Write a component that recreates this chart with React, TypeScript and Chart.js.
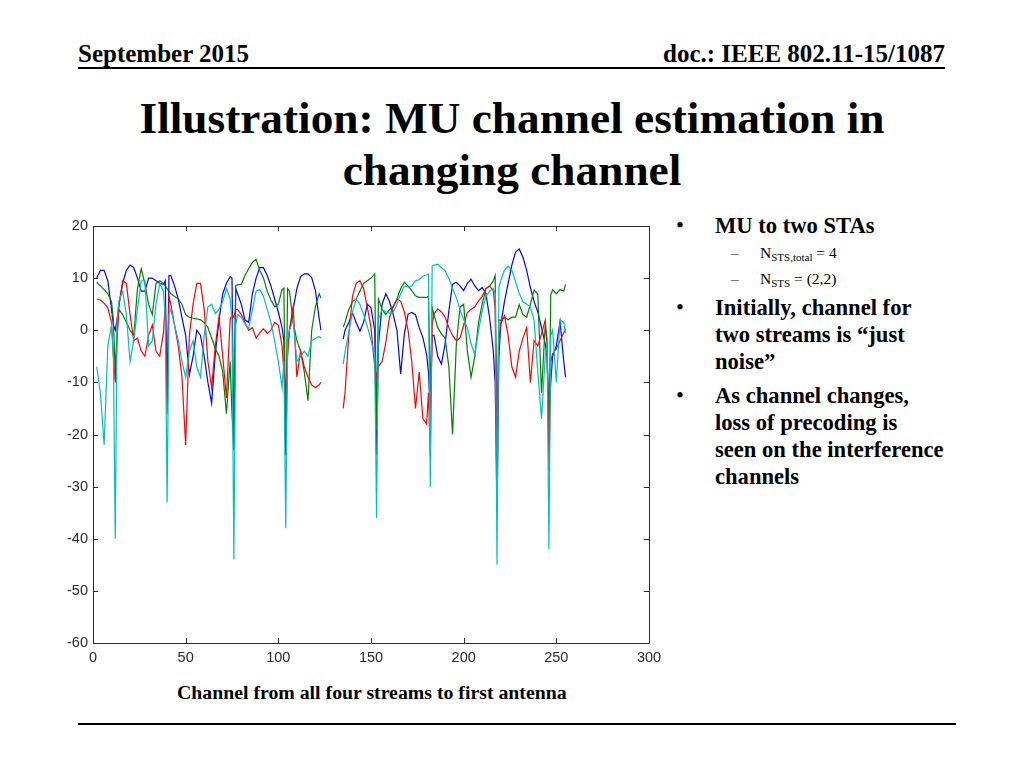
import React, { useEffect, useRef } from "react";
import { Chart, registerables } from "chart.js";

Chart.register(...registerables);

// Subcarrier indices (x values); 129 is a gap that breaks the lines
const subcarriers = [
  2, 4, 6, 8, 10, 11, 12, 13, 14, 16,
  18, 20, 22, 24, 26, 28, 30, 32, 34, 36,
  38, 39, 40, 41, 42, 44, 46, 48, 50, 52,
  54, 56, 58, 60, 62, 64, 66, 68, 70, 72,
  74, 75, 76, 77, 78, 80, 82, 84, 86, 88,
  90, 92, 94, 96, 98, 100, 102, 103, 104, 105,
  106, 108, 110, 112, 114, 116, 118, 120, 122, 123,
  129,
  135, 136, 138, 140, 142, 144, 146, 148, 150, 152,
  153, 154, 156, 158, 160, 162, 164, 166, 168, 170,
  172, 174, 176, 178, 180, 181, 182, 183, 184, 186,
  188, 190, 192, 194, 196, 198, 200, 202, 204, 206,
  208, 210, 212, 214, 216, 217, 218, 219, 220, 222,
  224, 226, 228, 230, 232, 234, 236, 238, 240, 242,
  244, 245, 246, 247, 248, 250, 252, 254, 255,
];

const stream1Blue = [
  10, 11.5, 11.5, 9.5, 4, 1, 0, 2, 5, 9,
  11.5, 12.5, 12, 10, 7.5, 7.5, 10, 10, 9.5, 9,
  8.8, 9.5, -13, 10.5, 10.5, 8.5, 6, 2.4, -1, -8.5,
  -5, 0, -1, -5, -10, -14, -4.5, 2, 7, 9,
  10.3, 10, -22, 8, 7, 5, 2, 1.5, 7, 10,
  12, 12, 10.5, 8.5, 6, 3.5, 0.5, -2, -24, -3,
  0, 4, 8, 10.3, 10.8, 10.8, 10.1, 7.6, 2.4, 0,
  null,
  -1.7, 0, 1.5, 3.3, 1.5, -0.2, 1.5, 5, 4.3, 0,
  -24, -3, 5, 7, 5.5, 3, 0, -8.4, -0.7, 3.1,
  3.4, 3, 0.5, -1.4, -4.6, -8, -16, -1, -1, -5,
  -6.5, -2.6, 3.7, 8.8, 9.2, 8.5, 7.6, 9, 9.8, 8.5,
  7.6, 8.2, 7, 2.4, -4, -10, -35, -5, 1, 5.5,
  9, 12.5, 15, 15.6, 14, 11.5, 8.2, 5.5, 3.5, 0.5,
  -2.6, -5, -17, -10, -5, -3, 1.7, -6, -9,
];

const stream2Green = [
  9.2, 8.5, 7.8, 7, 5.5, 2, -8, 0, 4, 3,
  1.5, 0, -1, 8, 11.8, 9, 5, 3, 9, 9.5,
  9, 8.5, 8, 7.5, 7, 6.5, 6, 5, 3, 2.5,
  2.3, 2.2, 2, 1.5, 0.5, -1.5, -3.5, -5, -8, -16,
  -6, -16, -23, 8.6, 8.7, 8.8, 10.5, 11.8, 13, 13.6,
  11.5, 10, 7.5, 5.8, 4.5, 5, 7.8, 8.1, -21, 8,
  7.5, 1.5, -2, -4, -8, -13.5, 0, 4.5, 7, 6.2,
  null,
  0.6, 1.5, 4, 5.5, 6, 7.5, 9, 9.5, 10, 10.8,
  -19, 6, 4, 3, 4, 4.5, 6, 8, 9.2, 8.5,
  7.6, 6.6, 6.3, 6.3, 6.3, 6.5, -12, 4.4, 3, 0.5,
  -0.7, -1.5, -7, -20, -3, 4.4, 5, -4, -9, -5,
  1.5, 5, 8, 8.5, 9.5, 10.5, -20, 2, 1.9, 2.5,
  2, 2.5, 2.5, 4.9, 3, 2.5, 5, 7.7, 7, -12,
  1, -2, -22, 6.8, 7.8, 7, 7.8, 7.5, 8.8,
];

const stream3Red = [
  6, 5.8, 5.2, 4.3, 1.5, -5, -10, -2, 4.5, 9.5,
  9, 3, -2, -1.5, -4, -5, -1, 1, -4, -5,
  -0.5, 5, -16, 6.5, 5, 1, -3, -9, -22, -1,
  5, 9, 9, 4, -6, -11, -3, 2.5, -5, -13,
  2, 3, 2.5, 4, 4, 3, 1.5, 0, 0.5, -1.5,
  -0.5, 0.3, -0.6, 0, 1.5, 1, -3, -8, -12, -5,
  0, 4.5, -9, -4, -7, -9, -10.5, -11, -10.5, -10,
  null,
  -15, -12, -1, 6.5, 9, 9.5, 8, 4.5, 0.5, -7,
  -9, -7, -6, -2.3, 2.5, 4.5, 6, 5.6, 3.5, 0,
  -6, -15, -8, -17, -18, -12, -24, 1, 3.1, 4.1,
  3.5, 2.5, 0.5, -1, -2, -1.5, 1, 3.4, 4, 4.5,
  5.6, 6.5, 8, 8.5, 7.6, 4, -22, -2, 1.2, 2.8,
  -1, -7, -9, -4, -1.5, 0.5, -10, -2, -3, -0.7,
  1.9, -3, -27, -6, -4.5, -3.6, -2, -0.5, 0.3,
];

const stream4Cyan = [
  -7, -12, -22, -3, 1, -5, -40, 2, 5.7, 7.5,
  3, -6, -2, 4, 9.5, 9.5, -3, -2, 5, 9,
  7.5, 2, -33, 3, 4, 1, -2, -6, -9, -4,
  -2, -7, -9, -1, 4.5, 5, 3.2, 4, 5.5, 8,
  6, 2, -44, 1, 3, 2.5, 1.2, 0.3, 4, 7.5,
  7.8, 6.5, 4, 1.5, -2, -6, -11, -6, -38, -2,
  0, 2, -6, -5, -4, -5, -2, -1.6, -1.2, -1.5,
  null,
  -6.5, -4.2, -0.4, 3.5, 5.9, 5, 3, 0.8, -1.9, -5,
  -36, 2, 4, 3.5, 3.3, 3.5, 5, 7, 8.5, 8.3,
  8.5, 9.5, 9.7, 10.4, 10.6, 10.8, -30, 12.3, 12.5, 12.7,
  12, 11.4, 10, 8, 6.3, 4, 2, 0.5, -2.6, -4.6,
  -0.1, 3.7, 6.5, 7.5, 8, 7, -45, 8.2, 9.5, 11.5,
  12.3, 11.5, 9.3, 7, 5.5, 5, 4.5, 1.9, -8, -17,
  -5, -2, -42, -1, 0, -10, 2, 1.5, -0.6,
];

const X_MIN = 0;
const X_MAX = 300;
const X_STEP = 50;
const Y_MIN = -60;
const Y_MAX = 20;
const Y_STEP = 10;

const boxPlugin = {
  id: "matlabBox",
  afterDatasetsDraw(chart: any) {
    const { ctx, chartArea: a, scales } = chart;
    const xs = scales.x;
    const ys = scales.y;
    ctx.save();
    ctx.strokeStyle = "#2a2a2a";
    ctx.lineWidth = 1;
    ctx.beginPath();
    ctx.rect(Math.round(a.left) + 0.5, Math.round(a.top) + 0.5, Math.round(a.right - a.left), Math.round(a.bottom - a.top));
    ctx.stroke();
    const len = 5;
    ctx.beginPath();
    xs.ticks.forEach((t: any) => {
      const px = Math.round(xs.getPixelForValue(t.value)) + 0.5;
      ctx.moveTo(px, a.bottom);
      ctx.lineTo(px, a.bottom - len);
      ctx.moveTo(px, a.top);
      ctx.lineTo(px, a.top + len);
    });
    ys.ticks.forEach((t: any) => {
      const py = Math.round(ys.getPixelForValue(t.value)) + 0.5;
      ctx.moveTo(a.left, py);
      ctx.lineTo(a.left + len, py);
      ctx.moveTo(a.right, py);
      ctx.lineTo(a.right - len, py);
    });
    ctx.stroke();
    ctx.restore();
  },
};

function ChannelChart() {
  const ref = useRef<HTMLCanvasElement | null>(null);
  useEffect(() => {
    if (!ref.current) return;
    const mk = (vals: (number | null)[]) => subcarriers.map((x, i) => ({ x, y: vals[i] }));
    const series = [
      { label: "Stream 1", data: mk(stream1Blue), color: "#0000ff", order: 4 },
      { label: "Stream 2", data: mk(stream2Green), color: "#008000", order: 3 },
      { label: "Stream 3", data: mk(stream3Red), color: "#ff0000", order: 2 },
      { label: "Stream 4", data: mk(stream4Cyan), color: "#00bfbf", order: 1 },
    ];
    const chart = new Chart(ref.current, {
      type: "line",
      data: {
        datasets: series.map((s) => ({
          label: s.label,
          data: s.data as any,
          borderColor: s.color,
          backgroundColor: s.color,
          borderWidth: 1.2,
          pointRadius: 0,
          tension: 0,
          spanGaps: false,
          order: s.order,
        })),
      },
      options: {
        responsive: false,
        devicePixelRatio: 1,
        animation: false,
        layout: { padding: { top: 15, right: 21, left: 0, bottom: 0 } },
        plugins: { legend: { display: false }, tooltip: { enabled: false } },
        scales: {
          x: {
            type: "linear",
            min: X_MIN,
            max: X_MAX,
            grid: { display: false, drawTicks: false },
            border: { display: false },
            ticks: {
              stepSize: X_STEP,
              autoSkip: false,
              maxRotation: 0,
              padding: 6,
              color: "#2a2a2a",
              font: { family: "Liberation Sans", size: 14.5 },
            },
            afterFit: (s: any) => {
              s.height = 32;
            },
          },
          y: {
            type: "linear",
            min: Y_MIN,
            max: Y_MAX,
            grid: { display: false, drawTicks: false },
            border: { display: false },
            ticks: {
              stepSize: Y_STEP,
              autoSkip: false,
              padding: 5,
              color: "#2a2a2a",
              font: { family: "Liberation Sans", size: 14.5 },
            },
            afterFit: (s: any) => {
              s.width = 53;
            },
          },
        },
      },
      plugins: [boxPlugin],
    });
    return () => chart.destroy();
  }, []);
  return <canvas ref={ref} width={630} height={464} style={{ position: "absolute", left: 40, top: 211 }} />;
}

function T(props: { x: number; top: number; fs: number; lh: number; bold?: boolean; children: any }) {
  return (
    <div
      style={{
        position: "absolute",
        left: props.x,
        top: props.top,
        fontSize: props.fs,
        lineHeight: props.lh + "px",
        fontWeight: props.bold ? "bold" : "normal",
        whiteSpace: "nowrap",
      }}
    >
      {props.children}
    </div>
  );
}

export default function App() {
  const bulletFs = 22.6;
  const bulletLh = 27;
  const mainLines: [number, string][] = [
    [212, "MU to two STAs"],
    [294, "Initially, channel for"],
    [321, "two streams is \u201cjust"],
    [348, "noise\u201d"],
    [382, "As channel changes,"],
    [409, "loss of precoding is"],
    [436, "seen on the interference"],
    [463, "channels"],
  ];
  const bulletTops = [212, 294, 382];
  const subStyle = { fontSize: 11, verticalAlign: "-3px", lineHeight: 0 };
  return (
    <div
      style={{
        position: "fixed",
        left: 0,
        top: 0,
        width: 1024,
        height: 768,
        background: "#fff",
        color: "#000",
        fontFamily: "'Liberation Serif', 'Times New Roman', serif",
        overflow: "hidden",
      }}
    >
      <T x={78} top={40} fs={25} lh={28} bold>
        September 2015
      </T>
      <div
        style={{
          position: "absolute",
          right: 1024 - 945,
          top: 40,
          fontSize: 25,
          lineHeight: "28px",
          fontWeight: "bold",
          whiteSpace: "nowrap",
        }}
      >
        doc.: IEEE 802.11-15/1087
      </div>
      <div style={{ position: "absolute", left: 78, top: 67, width: 867, height: 2, background: "#000" }} />

      <div
        style={{
          position: "absolute",
          left: 0,
          top: 92,
          width: 1024,
          textAlign: "center",
          fontSize: 45.3,
          lineHeight: "52px",
          fontWeight: "bold",
        }}
      >
        Illustration: MU channel estimation in
        <br />
        changing channel
      </div>

      <ChannelChart />

      {bulletTops.map((t, i) => (
        <T key={"b" + i} x={676} top={t} fs={bulletFs} lh={bulletLh}>
          {"\u2022"}
        </T>
      ))}
      {mainLines.map(([t, s], i) => (
        <T key={"l" + i} x={715} top={t} fs={bulletFs} lh={bulletLh} bold>
          {s}
        </T>
      ))}
      <T x={731} top={244} fs={15.5} lh={18}>
        {"\u2013"}
      </T>
      <T x={760} top={244} fs={15.5} lh={18}>
        N<sub style={subStyle}>STS,total</sub> = 4
      </T>
      <T x={731} top={270} fs={15.5} lh={18}>
        {"\u2013"}
      </T>
      <T x={760} top={270} fs={15.5} lh={18}>
        N<sub style={subStyle}>STS</sub> = (2,2)
      </T>

      <T x={177} top={680} fs={19.8} lh={24} bold>
        Channel from all four streams to first antenna
      </T>
      <div style={{ position: "absolute", left: 78, top: 723, width: 878, height: 2, background: "#000" }} />
    </div>
  );
}
